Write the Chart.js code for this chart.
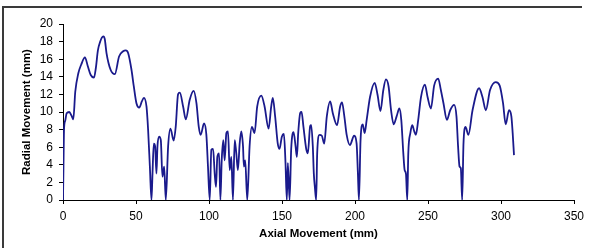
<!DOCTYPE html>
<html>
<head>
<meta charset="utf-8">
<script src="https://cdn.jsdelivr.net/npm/chart.js@4/dist/chart.umd.min.js"></script>
<style>
html,body{margin:0;padding:0;background:#fff;}
canvas{display:block;}
</style>
</head>
<body>
<canvas id="c" width="591" height="248"></canvas>
<script>
// Axial movement (mm) sample positions
const axial = [
0,0.3,0.7,1.5,2.5,4.3,5.8,7.06,8.4,10.5,12.5,15.0,17.0,19.0,21.2,22.5,23.9,25.5,26.6,27.6,28.6,29.8,
32.6,35.5,38.4,41.2,43.0,44.6,46.9,48.5,50.3,52.2,54.0,55.4,57.2,58.3,59.5,60.6,61.3,62.2,63.1,64.0,
64.7,65.8,67.0,68.1,69.3,70.4,72.0,73.6,75.8,77.2,78.8,80.0,82.3,84.1,86.8,89.5,91.4,93.0,94.3,96.6,
98.2,99.3,100.5,101.6,102.8,103.9,104.8,105.7,106.9,107.8,108.7,109.8,110.7,111.9,113.0,114.2,115.3,116.4,117.6,118.7,
119.8,121.0,122.1,123.3,123.9,124.8,126.2,127.8,129.4,131.2,133.0,135.8,138.1,140.8,142.6,143.7,145.3,147.1,148.3,149.9,
151.3,152.4,153.3,154.0,155.2,156.3,157.9,159.3,160.2,161.1,162.5,163.4,164.7,166.6,167.7,169.3,170.0,171.1,171.8,172.5,
173.4,174.1,175.7,177.3,178.9,180.7,183.0,184.8,187.7,189.8,191.1,192.7,194.3,196.5,199.4,201.1,202.0,202.7,203.8,205.3,
206.6,208.0,210.3,213.5,215.5,217.4,219.4,221.2,223.0,224.7,226.5,228.5,230.4,231.7,233.1,234.0,234.9,235.8,236.5,237.9,
239.2,240.6,241.7,243.3,245.2,247.9,249.7,252.0,254.2,257.0,258.8,260.6,262.9,265.2,267.9,269.5,270.6,271.6,272.5,273.4,
274.3,275.7,277.7,280.5,285.0,287.3,289.6,292.5,296.4,299.1,301.4,303.2,305.5,307.1,308.0,308.9
];
// Radial movement (mm) at each axial position
const radial = [
0,3.5,8.0,9.0,9.85,10.0,9.6,9.17,12.3,14.4,15.4,16.2,15.2,14.2,13.9,15.0,17.0,18.0,18.45,18.6,18.3,16.7,
14.8,14.3,16.3,16.9,17.0,16.7,14.8,12.9,11.0,10.5,11.2,11.6,10.6,7.95,3.8,0,3.0,6.4,6.1,3.0,
6.1,7.2,6.8,2.65,3.8,0,6.1,8.1,6.75,8.3,12.0,12.2,10.6,9.17,11.4,12.4,11.0,8.3,7.4,8.7,
7.4,3.8,0,5.7,5.8,3.0,1.5,4.9,5.3,0,4.5,6.8,4.5,7.6,7.8,3.4,4.9,0,6.8,5.3,
3.4,6.4,7.8,6.1,3.8,4.5,0,6.1,8.3,7.6,10.6,11.85,10.6,8.1,10.6,11.6,9.5,6.4,5.8,7.2,
7.5,4.2,0,4.2,0,5.8,7.7,6.1,4.9,7.6,9.9,10.0,8.3,5.8,5.3,8.4,8.5,6.1,3.0,1.5,
0,5.3,7.4,7.3,6.4,9.5,11.2,9.85,8.5,10.6,11.1,9.5,7.4,6.25,7.3,6.4,3.0,0,6.8,8.6,
7.6,9.1,11.7,13.3,11.9,10.1,12.5,13.7,12.9,10.2,8.6,9.5,10.4,9.1,5.3,3.4,3.0,0,5.3,7.6,
8.5,7.8,7.4,9.1,11.7,13.1,11.7,10.4,13.0,13.8,12.5,11.0,9.1,10.2,10.8,9.5,6.1,3.8,3.6,0,
6.4,8.3,7.4,10.2,12.7,11.7,10.2,12.5,13.4,13.0,11.0,8.6,10.2,9.5,7.6,5.1
];
const xTicks = [0,50,100,150,200,250,300,350];
const yTicks = [0,2,4,6,8,10,12,14,16,18,20];

const points = axial.map((x, i) => ({x: x, y: radial[i]}));

const framePlugin = {
  id: 'frame',
  beforeDraw(chart) {
    const ctx = chart.ctx;
    ctx.save();
    ctx.fillStyle = '#fff';
    ctx.fillRect(0, 0, chart.width, chart.height);
    ctx.strokeStyle = '#3a3a3a';
    ctx.lineWidth = 2;
    ctx.beginPath();
    ctx.moveTo(3, 248);
    ctx.lineTo(3, 7);
    ctx.lineTo(582, 7);
    ctx.stroke();
    ctx.restore();
  }
};

const tickFont = {family: '"Liberation Sans", Arial, sans-serif', size: 12};
const titleFont = {family: '"Liberation Sans", Arial, sans-serif', size: 11.5, weight: 'bold'};

new Chart(document.getElementById('c'), {
  type: 'scatter',
  data: {
    datasets: [{
      data: points,
      showLine: true,
      borderColor: '#1a1a8c',
      borderWidth: 1.8,
      pointRadius: 0,
      cubicInterpolationMode: 'monotone',
      fill: false
    }]
  },
  options: {
    responsive: false,
    animation: false,
    layout: {padding: {left: 0, right: 17, top: 24, bottom: 0}},
    plugins: {legend: {display: false}, tooltip: {enabled: false}},
    scales: {
      x: {
        type: 'linear',
        min: 0, max: 350,
        afterBuildTicks: s => { s.ticks = xTicks.map(v => ({value: v})); },
        afterFit: s => { s.height = 48; },
        ticks: {color: '#000', font: tickFont, padding: 5, maxRotation: 0},
        grid: {display: true, drawOnChartArea: false, drawTicks: true, tickLength: 4, color: '#000'},
        border: {display: true, color: '#000', width: 1},
        title: {display: true, text: 'Axial Movement (mm)', color: '#000', font: titleFont, padding: {top: 0, bottom: 7}}
      },
      y: {
        type: 'linear',
        min: 0, max: 20,
        afterBuildTicks: s => { s.ticks = yTicks.map(v => ({value: v})); },
        afterFit: s => { s.width = 63; },
        ticks: {color: '#000', font: tickFont, padding: 6},
        grid: {display: true, drawOnChartArea: false, drawTicks: true, tickLength: 4, color: '#000'},
        border: {display: true, color: '#000', width: 1},
        title: {display: true, text: 'Radial Movement (mm)', color: '#000', font: titleFont, padding: {top: 20, bottom: 0}}
      }
    }
  },
  plugins: [framePlugin]
});
</script>
</body>
</html>
